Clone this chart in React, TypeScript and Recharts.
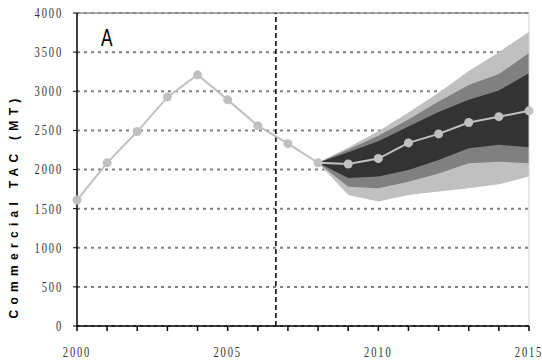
import {
  ComposedChart,
  Area,
  Line,
  XAxis,
  YAxis,
  CartesianGrid,
  ReferenceLine,
} from 'recharts';

// years and the commercial TAC (history + median projection)
const years = [2000, 2001, 2002, 2003, 2004, 2005, 2006, 2007, 2008, 2009, 2010, 2011, 2012, 2013, 2014, 2015];
const tac = [1610, 2085, 2485, 2925, 3210, 2890, 2560, 2330, 2085, 2070, 2140, 2340, 2455, 2600, 2675, 2750];

// projection bands, 2008 onward
const bandYears = [2008, 2009, 2010, 2011, 2012, 2013, 2014, 2015];
const outerLo = [2085, 1675, 1590, 1675, 1720, 1760, 1810, 1910];
const outerHi = [2085, 2280, 2490, 2730, 2980, 3260, 3500, 3760];
const midLo = [2085, 1780, 1760, 1845, 1950, 2080, 2100, 2080];
const midHi = [2085, 2255, 2430, 2640, 2870, 3080, 3220, 3490];
const innerLo = [2085, 1890, 1910, 1995, 2120, 2270, 2315, 2285];
const innerHi = [2085, 2220, 2360, 2550, 2735, 2890, 3010, 3230];

const yTicks = [0, 500, 1000, 1500, 2000, 2500, 3000, 3500, 4000];
const xLabelYears = [2000, 2005, 2010, 2015];
const splitYear = 2006.6;

const chartData = years.map((year, i) => {
  const j = bandYears.indexOf(year);
  return {
    year,
    tac: tac[i],
    outer: j >= 0 ? [outerLo[j], outerHi[j]] : null,
    mid: j >= 0 ? [midLo[j], midHi[j]] : null,
    inner: j >= 0 ? [innerLo[j], innerHi[j]] : null,
  };
});

const numStyle = {
  fontFamily: '"Liberation Serif", serif',
  fontSize: 14,
  letterSpacing: 2.5,
  fill: '#333',
};

const YTick = (props: any) => {
  const { x, y, payload } = props;
  return (
    <g transform={`translate(${x},${y})`}>
      <text transform="scale(0.75,1)" textAnchor="end" dy="0.35em" style={numStyle}>
        {payload.value}
      </text>
    </g>
  );
};

const XTick = (props: any) => {
  const { x, y, payload } = props;
  if (!xLabelYears.includes(payload.value)) return null;
  return (
    <g transform={`translate(${x},${y})`}>
      <text transform="scale(0.75,1)" textAnchor="middle" dy="0.71em" style={numStyle}>
        {payload.value}
      </text>
    </g>
  );
};

export default function App() {
  return (
    <div style={{ position: 'absolute', left: 0, top: 0, width: 542, height: 363, background: '#fff' }}>
      <ComposedChart
        width={542}
        height={363}
        data={chartData}
        margin={{ top: 13, right: 13, bottom: 7, left: 0 }}
      >
        <CartesianGrid
          horizontal
          vertical={false}
          stroke="#808080"
          strokeWidth={2}
          strokeDasharray="3 4"
        />
        <XAxis
          dataKey="year"
          type="number"
          domain={[2000, 2015]}
          ticks={years}
          interval={0}
          height={30}
          tickSize={5}
          tickMargin={16}
          axisLine={{ stroke: '#000', strokeWidth: 1.5 }}
          tickLine={{ stroke: '#000', strokeWidth: 1.5 }}
          tick={<XTick />}
        />
        <YAxis
          type="number"
          domain={[0, 4000]}
          ticks={yTicks}
          width={77}
          tickSize={4}
          tickMargin={10}
          axisLine={{ stroke: '#000', strokeWidth: 1.5 }}
          tickLine={{ stroke: '#000', strokeWidth: 1 }}
          tick={<YTick />}
        />
        <ReferenceLine y={4000} stroke="#8c8c8c" strokeWidth={1.5} />
        <ReferenceLine x={2015} stroke="#d0d0d0" strokeWidth={1} />
        <Area
          type="linear"
          dataKey="outer"
          stroke="none"
          fill="#c0c0c0"
          fillOpacity={1}
          isAnimationActive={false}
        />
        <Area
          type="linear"
          dataKey="mid"
          stroke="none"
          fill="#808080"
          fillOpacity={1}
          isAnimationActive={false}
        />
        <Area
          type="linear"
          dataKey="inner"
          stroke="none"
          fill="#333333"
          fillOpacity={1}
          isAnimationActive={false}
        />
        <ReferenceLine x={splitYear} stroke="#000" strokeWidth={1.5} strokeDasharray="5 3" />
        <Line
          type="linear"
          dataKey="tac"
          stroke="#c0c0c0"
          strokeWidth={2}
          dot={{ r: 4.5, fill: '#c0c0c0', stroke: 'none' }}
          activeDot={false}
          isAnimationActive={false}
        />
      </ComposedChart>
      <svg
        width={542}
        height={363}
        style={{ position: 'absolute', left: 0, top: 0, pointerEvents: 'none' }}
      >
        <text
          transform="translate(101,46) scale(0.72,1)"
          style={{ fontFamily: '"Liberation Sans", sans-serif', fontSize: 24, fill: '#000' }}
        >
          A
        </text>
        <text
          transform="translate(18,206) rotate(-90)"
          textAnchor="middle"
          style={{
            fontFamily: '"Liberation Sans", sans-serif',
            fontSize: 12,
            fontWeight: 'bold',
            letterSpacing: 5.3,
            fill: '#000',
          }}
        >
          Commercial TAC (MT)
        </text>
      </svg>
    </div>
  );
}
